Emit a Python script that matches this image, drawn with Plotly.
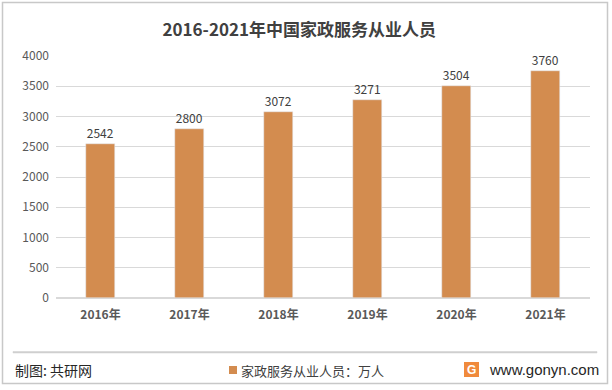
import plotly.graph_objects as go

years = ["2016年", "2017年", "2018年", "2019年", "2020年", "2021年"]
values = [2542, 2800, 3072, 3271, 3504, 3760]
y_ticks = [0, 500, 1000, 1500, 2000, 2500, 3000, 3500, 4000]

BAR = "#D38C4F"
FONT = "Noto Sans CJK SC, Liberation Sans, sans-serif"

W, H = 612, 390
L, R, T, B = 56, 590, 56, 298


def px(x):
    return (x - L) / (R - L)


def py(y):
    return (B - y) / (B - T)


fig = go.Figure()
fig.add_trace(go.Bar(
    x=years, y=values, marker_color=BAR, width=0.315,
    text=[str(v) for v in values], textposition="outside",
    textfont=dict(size=12, color="#404040", family=FONT),
    cliponaxis=False, showlegend=False, hoverinfo="skip",
))

fig.update_layout(
    width=W, height=H,
    margin=dict(l=L, r=W - R, t=T, b=H - B),
    paper_bgcolor="white", plot_bgcolor="white",
    font=dict(family=FONT, color="#595959"),
    title=dict(text="<b>2016-2021年中国家政服务从业人员</b>", x=0.489, xanchor="center",
               y=1 - 30 / H, yanchor="middle", yref="container",
               font=dict(size=17, color="#404040", family=FONT)),
    xaxis=dict(showgrid=False, showline=False, ticks="",
               tickfont=dict(size=12, color="#595959", family=FONT),
               ticklabelstandoff=8),
    yaxis=dict(range=[0, 4000], tickvals=y_ticks, showgrid=True, gridcolor="#D9D9D9",
               gridwidth=1, zeroline=True, zerolinecolor="#D9D9D9", showline=False,
               tickfont=dict(size=12, color="#595959", family=FONT), ticklabelstandoff=6),
    bargap=0.0,
)
fig.update_xaxes(tickprefix="<b>", ticksuffix="</b>")

shapes = [
    # outer border
    dict(type="rect", xref="paper", yref="paper", x0=px(2.5), x1=px(607.5), y0=py(383.5), y1=py(2.5),
         line=dict(color="#C8C8C8", width=1.5), fillcolor="rgba(0,0,0,0)", layer="above"),
    # separator
    dict(type="rect", xref="paper", yref="paper", x0=px(13), x1=px(597), y0=py(353), y1=py(351.5),
         line=dict(color="#CFCFCF", width=0.5), fillcolor="#CFCFCF", layer="above"),
    # legend square
    dict(type="rect", xref="paper", yref="paper", x0=px(229), x1=px(237), y0=py(374), y1=py(366),
         line=dict(width=0), fillcolor=BAR),
    # logo
    dict(type="rect", xref="paper", yref="paper", x0=px(464), x1=px(479), y0=py(377), y1=py(362),
         line=dict(width=0), fillcolor="#F08A3C"),
]
fig.update_layout(shapes=shapes)

ann = [
    # separator line drawn as a thin filled annotation box as well
    dict(text="", x=px(13), y=py(352), xanchor="left", yanchor="middle",
         width=584, height=1, bgcolor="#CFCFCF", borderpad=0, borderwidth=0,
         font=dict(size=1)),
    dict(text="制图: 共研网", x=px(13), y=py(370), xanchor="left", yanchor="middle",
         font=dict(size=14, color="#262626", family=FONT)),
    dict(text="家政服务从业人员：万人", x=px(239), y=py(370), xanchor="left", yanchor="middle",
         font=dict(size=13, color="#404040", family=FONT)),
    dict(text="<b>G</b>", x=px(471.5), y=py(369.5), xanchor="center", yanchor="middle",
         font=dict(size=12, color="white", family="Liberation Sans")),
    dict(text="www.gonyn.com", x=px(487), y=py(369), xanchor="left", yanchor="middle",
         font=dict(size=15, color="#262626", family="Liberation Sans, sans-serif")),
]
for a in ann:
    a.update(xref="paper", yref="paper", showarrow=False)
fig.update_layout(annotations=ann)

fig.write_html("out.html", config={"displayModeBar": False},
               post_script="document.body.style.margin='0';document.body.style.overflow='hidden';")
